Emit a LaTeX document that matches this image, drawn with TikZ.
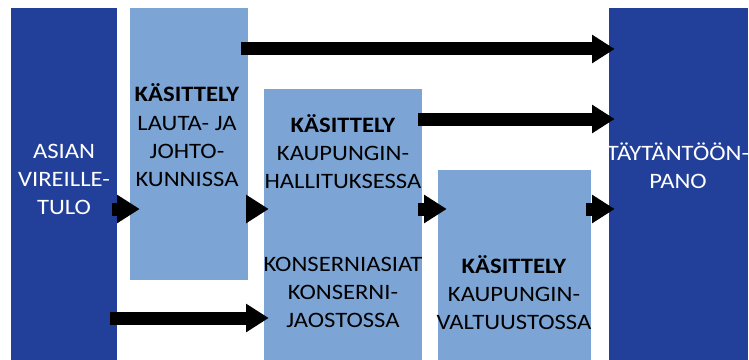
\documentclass[tikz,border=0pt]{standalone}
\usepackage{fontspec}
\setmainfont{Carlito}[FakeStretch=1.12]
\usetikzlibrary{arrows.meta, calc}
\definecolor{darkblue}{RGB}{34,64,154}
\definecolor{lightblue}{RGB}{124,165,214}

\begin{document}
\begin{tikzpicture}[x=0.75pt, y=-0.75pt,
	darkbox/.style={fill=darkblue, inner sep=0pt},
	lightbox/.style={fill=lightblue, inner sep=0pt},
	boxtext/.style={align=center, inner sep=0pt, font=\fontsize{16.5}{21.2}\selectfont},
	blockarrow/.style={line width=9.75pt, -{Triangle[length=17pt, width=20.25pt]}}]
	\useasboundingbox (0,0) rectangle (749,360);
	% boxes
	\node[darkbox, minimum width=79.5pt, minimum height=264pt] (vireille) at (64,184) {};
	\node[lightbox, minimum width=88.5pt, minimum height=204pt] (lauta) at (189,144) {};
	\node[lightbox, minimum width=118.5pt, minimum height=203.25pt] (hallitus) at (343,224.5) {};
	\node[lightbox, minimum width=114.75pt, minimum height=142.5pt] (valtuusto) at (514.5,265) {};
	\node[darkbox, minimum width=104.25pt, minimum height=264pt] (panoon) at (678.5,184) {};
	% texts
	\node[boxtext, white] (tvireille) at (64,179.5) {ASIAN\\VIREILLE-\\TULO};
	\node[boxtext] (tlauta) at (187,135.5) {\textbf{KÄSITTELY}\\LAUTA- JA\\JOHTO-\\KUNNISSA};
	\node[boxtext] (thallitus) at (343,151.5) {\textbf{KÄSITTELY}\\KAUPUNGIN-\\HALLITUKSESSA};
	\node[boxtext] (tkonserni) at (343,292.5) {KONSERNIASIAT\\KONSERNI-\\JAOSTOSSA};
	\node[boxtext] (tvaltuusto) at (514,292.5) {\textbf{KÄSITTELY}\\KAUPUNGIN-\\VALTUUSTOSSA};
	\node[boxtext, white] (tpanoon) at (678,166) {TÄYTÄNTÖÖN-\\PANO};
	% arrow rows
	\coordinate (row1) at (0,49);
	\coordinate (row2) at (0,119);
	\coordinate (row3) at (0,209);
	\coordinate (row4) at (0,318);
	\draw[blockarrow, shorten <=-5.25pt, shorten >=-4.5pt] (lauta.east |- row1) -- (panoon.west |- row1);
	\draw[blockarrow, shorten <=-3pt, shorten >=-4.5pt] (hallitus.east |- row2) -- (panoon.west |- row2);
	\draw[blockarrow, shorten <=-3.75pt, shorten >=-7.5pt] (vireille.east |- row3) -- (lauta.west |- row3);
	\draw[blockarrow, shorten <=-5.25pt, shorten >=-3.75pt] (lauta.east |- row3) -- (hallitus.west |- row3);
	\draw[blockarrow, shorten <=-3pt, shorten >=-6.75pt] (hallitus.east |- row3) -- (valtuusto.west |- row3);
	\draw[blockarrow, shorten <=-3.75pt, shorten >=-4.5pt] (valtuusto.east |- row3) -- (panoon.west |- row3);
	\draw[blockarrow, shorten <=-5.25pt, shorten >=-3.75pt] (vireille.east |- row4) -- (hallitus.west |- row4);
\end{tikzpicture}
\end{document}
